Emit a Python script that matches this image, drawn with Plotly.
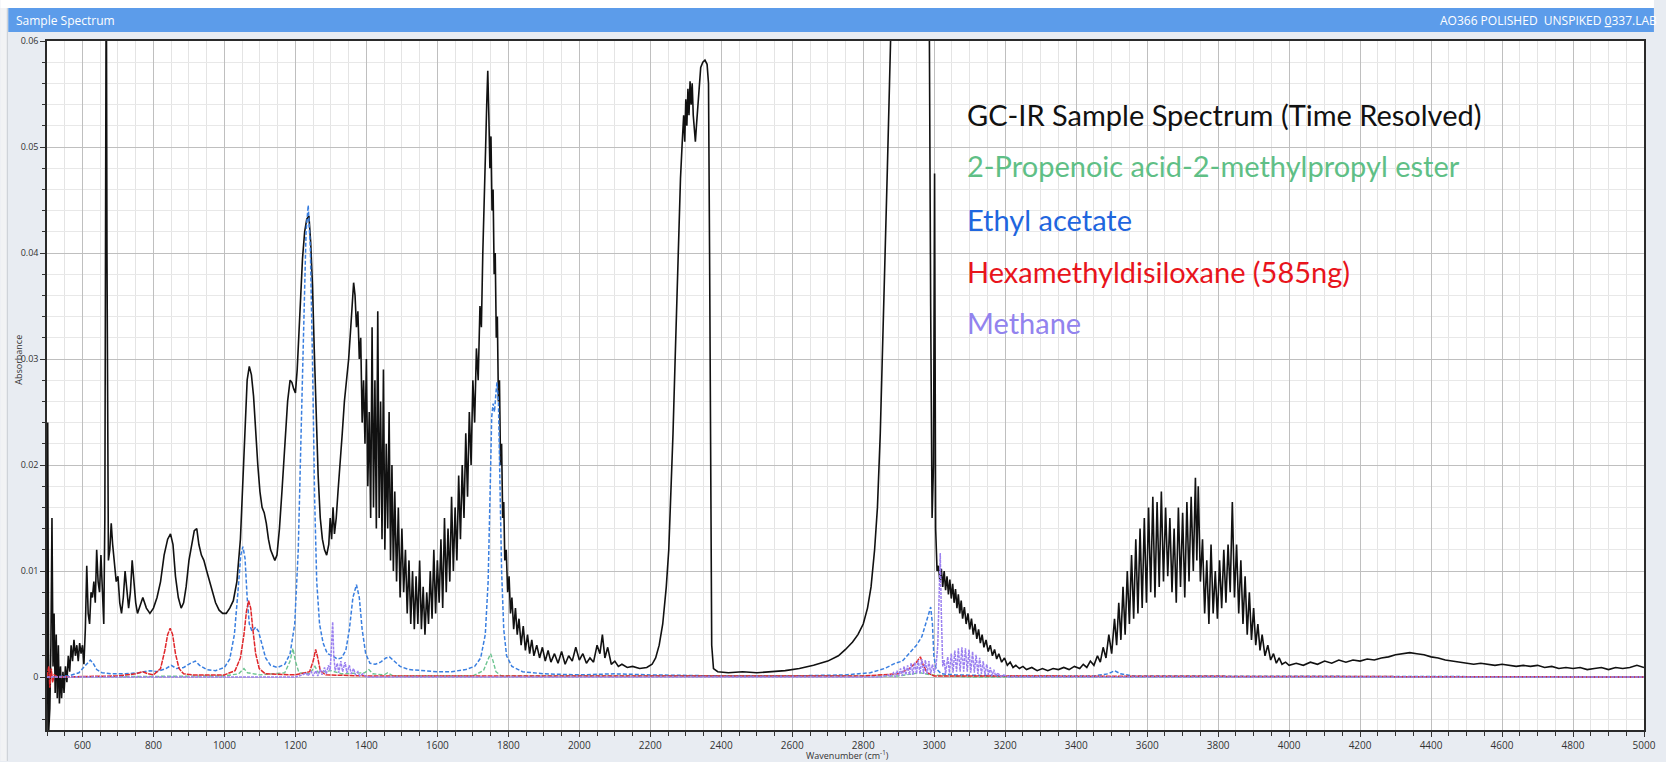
import plotly.graph_objects as go

# ---------------- data ----------------
sample_wn = [500, 502, 505, 508, 511, 514, 517, 520, 523, 526, 529, 532, 535, 538, 541, 545, 548, 552, 556, 560,
             564, 568, 572, 576, 580, 584, 588, 592, 596, 600, 604, 608, 612, 616, 620, 624, 628, 632, 636, 640,
             644, 648, 652, 656, 660, 663, 665, 667, 669, 671, 673, 677, 681, 685, 690, 695, 700, 705, 710, 715,
             720, 725, 730, 735, 740, 745, 750, 755, 760, 770, 780, 790, 800, 810, 820, 830, 840, 848, 855, 862,
             870, 878, 885, 892, 900, 908, 915, 922, 928, 935, 942, 950, 958, 965, 975, 985, 995, 1005, 1015, 1025,
             1035, 1045, 1052, 1058, 1064, 1070, 1076, 1082, 1088, 1094, 1100, 1106, 1112, 1118, 1124, 1130, 1136, 1142, 1148, 1155,
             1162, 1170, 1178, 1185, 1190, 1195, 1200, 1205, 1210, 1215, 1220, 1226, 1232, 1238, 1243, 1248, 1253, 1258, 1264, 1270,
             1276, 1282, 1288, 1294, 1298, 1302, 1306, 1310, 1315, 1320, 1326, 1332, 1338, 1344, 1350, 1356, 1360, 1364, 1368, 1372,
             1376, 1380, 1384, 1388, 1392, 1396, 1400, 1404, 1408, 1412, 1416, 1420, 1424, 1428, 1432, 1436, 1440, 1444, 1448, 1452,
             1456, 1460, 1464, 1468, 1472, 1476, 1480, 1485, 1490, 1495, 1500, 1505, 1510, 1515, 1520, 1525, 1530, 1535, 1540, 1545,
             1550, 1555, 1560, 1565, 1570, 1575, 1580, 1585, 1590, 1595, 1600, 1605, 1610, 1615, 1620, 1625, 1630, 1635, 1640, 1645,
             1650, 1655, 1660, 1665, 1670, 1675, 1680, 1685, 1690, 1695, 1700, 1705, 1710, 1715, 1720, 1724, 1728, 1732, 1736, 1739,
             1742, 1745, 1748, 1751, 1754, 1757, 1760, 1763, 1766, 1769, 1772, 1775, 1778, 1781, 1784, 1787, 1790, 1794, 1798, 1802,
             1806, 1810, 1815, 1820, 1825, 1830, 1836, 1842, 1848, 1854, 1860, 1866, 1872, 1880, 1888, 1896, 1904, 1912, 1920, 1930,
             1940, 1950, 1960, 1970, 1980, 1990, 2000, 2010, 2020, 2030, 2040, 2050, 2058, 2065, 2072, 2080, 2090, 2100, 2110, 2120,
             2135, 2150, 2170, 2190, 2205, 2215, 2225, 2235, 2245, 2252, 2258, 2264, 2270, 2275, 2280, 2285, 2290, 2294, 2297, 2300,
             2303, 2306, 2309, 2312, 2315, 2318, 2321, 2324, 2327, 2330, 2334, 2338, 2342, 2348, 2354, 2360, 2364, 2367, 2370, 2373,
             2378, 2390, 2420, 2460, 2500, 2540, 2580, 2620, 2660, 2700, 2730, 2750, 2770, 2785, 2800, 2812, 2822, 2832, 2840, 2848,
             2855, 2862, 2868, 2874, 2880, 2890, 2985, 2990, 2994, 2998, 3001, 3004, 3008, 3012, 3016, 3020, 3024, 3028, 3032, 3036,
             3040, 3044, 3048, 3052, 3056, 3060, 3064, 3068, 3072, 3076, 3080, 3085, 3090, 3095, 3100, 3105, 3110, 3115, 3120, 3125,
             3130, 3135, 3140, 3146, 3152, 3158, 3164, 3170, 3176, 3182, 3190, 3198, 3206, 3214, 3222, 3230, 3240, 3250, 3260, 3275,
             3290, 3305, 3320, 3335, 3350, 3365, 3380, 3395, 3410, 3420, 3430, 3440, 3450, 3460, 3468, 3476, 3484, 3492, 3500, 3508,
             3514, 3520, 3526, 3532, 3538, 3544, 3550, 3556, 3562, 3568, 3574, 3580, 3586, 3592, 3598, 3604, 3610, 3616, 3622, 3628,
             3634, 3640, 3646, 3652, 3658, 3664, 3670, 3676, 3682, 3688, 3694, 3700, 3706, 3712, 3718, 3724, 3730, 3736, 3740, 3744,
             3750, 3756, 3762, 3768, 3774, 3780, 3786, 3792, 3798, 3804, 3810, 3816, 3822, 3828, 3834, 3840, 3846, 3852, 3858, 3864,
             3870, 3876, 3882, 3888, 3894, 3900, 3906, 3912, 3918, 3924, 3932, 3940, 3948, 3956, 3964, 3972, 3980, 3990, 4000, 4020,
             4040, 4060, 4080, 4100, 4120, 4140, 4160, 4180, 4200, 4220, 4240, 4260, 4280, 4300, 4320, 4340, 4360, 4380, 4400, 4420,
             4440, 4460, 4480, 4500, 4520, 4540, 4560, 4580, 4600, 4620, 4640, 4660, 4680, 4700, 4720, 4740, 4760, 4780, 4800, 4820,
             4840, 4860, 4880, 4900, 4920, 4940, 4960, 4980, 5000]
sample_abs = [-0.0050, 0.0240, -0.0050, -0.0030, 0.0030, 0.0150, 0.0010, 0.0060, -0.0015, 0.0040, -0.0020, 0.0030, -0.0025, 0.0010, -0.0020, 0.0005, -0.0015, 0.0010, -0.0005, 0.0020,
              0.0005, 0.0030, 0.0015, 0.0035, 0.0020, 0.0030, 0.0015, 0.0032, 0.0022, 0.0030, 0.0012, 0.0045, 0.0105, 0.0060, 0.0050, 0.0080, 0.0075, 0.0090, 0.0070, 0.0120,
              0.0090, 0.0080, 0.0115, 0.0080, 0.0050, 0.0150, 0.0400, 0.0700, 0.0400, 0.0150, 0.0110, 0.0120, 0.0145, 0.0125, 0.0110, 0.0090, 0.0095, 0.0070, 0.0060, 0.0075,
              0.0100, 0.0085, 0.0065, 0.0080, 0.0110, 0.0090, 0.0070, 0.0060, 0.0065, 0.0075, 0.0065, 0.0060, 0.0065, 0.0075, 0.0090, 0.0115, 0.0130, 0.0135, 0.0125, 0.0095,
              0.0075, 0.0065, 0.0070, 0.0085, 0.0110, 0.0125, 0.0138, 0.0140, 0.0125, 0.0115, 0.0110, 0.0100, 0.0090, 0.0082, 0.0070, 0.0063, 0.0060, 0.0060, 0.0065, 0.0072,
              0.0090, 0.0130, 0.0190, 0.0245, 0.0280, 0.0293, 0.0285, 0.0265, 0.0230, 0.0200, 0.0175, 0.0160, 0.0155, 0.0145, 0.0130, 0.0120, 0.0115, 0.0110, 0.0115, 0.0140,
              0.0175, 0.0220, 0.0260, 0.0280, 0.0278, 0.0272, 0.0268, 0.0290, 0.0320, 0.0360, 0.0395, 0.0420, 0.0432, 0.0435, 0.0410, 0.0370, 0.0310, 0.0250, 0.0190, 0.0150,
              0.0130, 0.0120, 0.0115, 0.0125, 0.0150, 0.0130, 0.0160, 0.0135, 0.0150, 0.0175, 0.0200, 0.0230, 0.0260, 0.0280, 0.0300, 0.0330, 0.0355, 0.0372, 0.0360, 0.0330,
              0.0345, 0.0300, 0.0320, 0.0240, 0.0280, 0.0220, 0.0300, 0.0180, 0.0250, 0.0150, 0.0330, 0.0160, 0.0280, 0.0140, 0.0345, 0.0150, 0.0260, 0.0130, 0.0290, 0.0120,
              0.0220, 0.0140, 0.0250, 0.0110, 0.0200, 0.0100, 0.0175, 0.0090, 0.0160, 0.0075, 0.0140, 0.0080, 0.0120, 0.0060, 0.0110, 0.0050, 0.0100, 0.0045, 0.0095, 0.0050,
              0.0110, 0.0045, 0.0085, 0.0040, 0.0080, 0.0050, 0.0100, 0.0055, 0.0120, 0.0060, 0.0110, 0.0070, 0.0130, 0.0065, 0.0150, 0.0080, 0.0140, 0.0090, 0.0170, 0.0100,
              0.0160, 0.0110, 0.0190, 0.0130, 0.0200, 0.0150, 0.0230, 0.0170, 0.0250, 0.0200, 0.0280, 0.0240, 0.0310, 0.0280, 0.0350, 0.0330, 0.0400, 0.0440, 0.0500, 0.0540,
              0.0572, 0.0530, 0.0480, 0.0510, 0.0440, 0.0460, 0.0380, 0.0400, 0.0320, 0.0340, 0.0260, 0.0280, 0.0200, 0.0220, 0.0150, 0.0165, 0.0110, 0.0120, 0.0080, 0.0095,
              0.0060, 0.0075, 0.0045, 0.0065, 0.0040, 0.0055, 0.0030, 0.0048, 0.0025, 0.0040, 0.0022, 0.0035, 0.0020, 0.0030, 0.0018, 0.0028, 0.0015, 0.0025, 0.0014, 0.0022,
              0.0013, 0.0024, 0.0012, 0.0020, 0.0015, 0.0028, 0.0016, 0.0022, 0.0013, 0.0018, 0.0014, 0.0030, 0.0022, 0.0040, 0.0018, 0.0028, 0.0012, 0.0015, 0.0010, 0.0012,
              0.0009, 0.0010, 0.0008, 0.0009, 0.0012, 0.0018, 0.0030, 0.0050, 0.0085, 0.0120, 0.0170, 0.0230, 0.0300, 0.0360, 0.0420, 0.0470, 0.0505, 0.0530, 0.0505, 0.0545,
              0.0520, 0.0555, 0.0530, 0.0562, 0.0540, 0.0560, 0.0530, 0.0515, 0.0505, 0.0520, 0.0540, 0.0560, 0.0575, 0.0580, 0.0582, 0.0578, 0.0560, 0.0400, 0.0150, 0.0030,
              0.0008, 0.0005, 0.0004, 0.0005, 0.0004, 0.0005, 0.0006, 0.0008, 0.0011, 0.0015, 0.0020, 0.0026, 0.0033, 0.0040, 0.0050, 0.0065, 0.0085, 0.0120, 0.0160, 0.0230,
              0.0310, 0.0400, 0.0480, 0.0560, 0.0640, 0.0700, 0.0700, 0.0350, 0.0150, 0.0200, 0.0475, 0.0140, 0.0100, 0.0105, 0.0090, 0.0102, 0.0085, 0.0100, 0.0082, 0.0095,
              0.0078, 0.0092, 0.0074, 0.0088, 0.0070, 0.0083, 0.0065, 0.0078, 0.0060, 0.0072, 0.0055, 0.0066, 0.0050, 0.0060, 0.0045, 0.0055, 0.0040, 0.0050, 0.0036, 0.0045,
              0.0032, 0.0040, 0.0028, 0.0035, 0.0024, 0.0030, 0.0020, 0.0026, 0.0017, 0.0022, 0.0014, 0.0018, 0.0011, 0.0014, 0.0009, 0.0011, 0.0008, 0.0010, 0.0007, 0.0009,
              0.0006, 0.0008, 0.0006, 0.0008, 0.0007, 0.0009, 0.0007, 0.0010, 0.0008, 0.0012, 0.0009, 0.0015, 0.0011, 0.0020, 0.0014, 0.0028, 0.0018, 0.0040, 0.0022, 0.0055,
              0.0030, 0.0070, 0.0035, 0.0085, 0.0040, 0.0100, 0.0050, 0.0115, 0.0055, 0.0130, 0.0060, 0.0140, 0.0065, 0.0150, 0.0070, 0.0160, 0.0080, 0.0170, 0.0075, 0.0165,
              0.0085, 0.0175, 0.0090, 0.0160, 0.0095, 0.0150, 0.0080, 0.0140, 0.0070, 0.0160, 0.0085, 0.0155, 0.0075, 0.0165, 0.0090, 0.0170, 0.0100, 0.0188, 0.0110, 0.0180,
              0.0090, 0.0130, 0.0060, 0.0110, 0.0050, 0.0125, 0.0060, 0.0100, 0.0055, 0.0110, 0.0065, 0.0120, 0.0070, 0.0125, 0.0080, 0.0165, 0.0075, 0.0125, 0.0060, 0.0110,
              0.0050, 0.0095, 0.0040, 0.0080, 0.0035, 0.0065, 0.0030, 0.0050, 0.0025, 0.0040, 0.0020, 0.0030, 0.0016, 0.0022, 0.0013, 0.0018, 0.0012, 0.0014, 0.0011, 0.0013,
              0.0011, 0.0014, 0.0012, 0.0015, 0.0013, 0.0016, 0.0014, 0.0016, 0.0015, 0.0017, 0.0016, 0.0018, 0.0019, 0.0021, 0.0022, 0.0023, 0.0022, 0.0021, 0.0019, 0.0018,
              0.0016, 0.0015, 0.0014, 0.0013, 0.0012, 0.0013, 0.0012, 0.0011, 0.0012, 0.0011, 0.0010, 0.0011, 0.0010, 0.0011, 0.0009, 0.0010, 0.0008, 0.0009, 0.0008, 0.0009,
              0.0007, 0.0008, 0.0009, 0.0007, 0.0009, 0.0008, 0.0009, 0.0011, 0.0009]

ethyl_wn = [500, 560, 590, 605, 615, 622, 630, 640, 655, 680, 720, 760, 790, 810, 835, 850, 865, 885, 905, 918,
            930, 950, 975, 1000, 1015, 1028, 1038, 1046, 1052, 1058, 1064, 1070, 1078, 1088, 1096, 1106, 1116, 1130, 1150, 1170,
            1185, 1198, 1208, 1216, 1224, 1230, 1236, 1242, 1248, 1254, 1260, 1268, 1278, 1290, 1305, 1318, 1330, 1342, 1352, 1362,
            1372, 1380, 1388, 1398, 1410, 1425, 1440, 1455, 1465, 1478, 1495, 1520, 1560, 1600, 1640, 1680, 1705, 1722, 1735, 1743,
            1749, 1753, 1757, 1761, 1765, 1768, 1772, 1776, 1781, 1787, 1795, 1810, 1840, 1900, 2000, 2100, 2200, 2400, 2600, 2750,
            2820, 2860, 2890, 2910, 2930, 2950, 2965, 2975, 2983, 2990, 2995, 2999, 3005, 3020, 3060, 3200, 3450, 3490, 3508, 3525,
            3560, 5000]
ethyl_abs = [0.0000, 0.0001, 0.0004, 0.0010, 0.0014, 0.0016, 0.0013, 0.0007, 0.0004, 0.0003, 0.0003, 0.0004, 0.0006, 0.0005, 0.0008, 0.0011, 0.0008, 0.0009, 0.0013, 0.0015,
             0.0011, 0.0007, 0.0006, 0.0009, 0.0017, 0.0040, 0.0080, 0.0115, 0.0123, 0.0112, 0.0075, 0.0050, 0.0043, 0.0047, 0.0043, 0.0030, 0.0018, 0.0011, 0.0009, 0.0012,
             0.0022, 0.0050, 0.0120, 0.0230, 0.0350, 0.0420, 0.0445, 0.0405, 0.0300, 0.0170, 0.0090, 0.0050, 0.0032, 0.0022, 0.0020, 0.0017, 0.0018, 0.0025, 0.0045, 0.0075,
             0.0087, 0.0075, 0.0045, 0.0022, 0.0013, 0.0012, 0.0014, 0.0018, 0.0019, 0.0015, 0.0010, 0.0007, 0.0006, 0.0005, 0.0005, 0.0007, 0.0010, 0.0018, 0.0040, 0.0090,
             0.0180, 0.0245, 0.0258, 0.0250, 0.0268, 0.0278, 0.0260, 0.0190, 0.0100, 0.0045, 0.0020, 0.0010, 0.0005, 0.0003, 0.0002, 0.0003, 0.0002, 0.0001, 0.0001, 0.0002,
             0.0004, 0.0008, 0.0013, 0.0015, 0.0022, 0.0030, 0.0038, 0.0048, 0.0058, 0.0066, 0.0050, 0.0020, 0.0008, 0.0003, 0.0002, 0.0001, 0.0001, 0.0003, 0.0006, 0.0003,
             0.0001, 0.0000]

hmdso_wn = [500, 505, 508, 512, 516, 520, 530, 700, 750, 770, 785, 800, 820, 832, 840, 847, 854, 862, 872, 885,
            910, 1000, 1030, 1045, 1055, 1062, 1068, 1074, 1080, 1088, 1098, 1115, 1200, 1240, 1250, 1257, 1263, 1270, 1285, 1400,
            2800, 2900, 2930, 2950, 2961, 2968, 2980, 3000, 5000]
hmdso_abs = [0.0000, 0.0010, -0.0010, 0.0008, -0.0005, 0.0002, 0.0000, 0.0001, 0.0003, 0.0005, 0.0003, 0.0002, 0.0008, 0.0025, 0.0040, 0.0046, 0.0040, 0.0022, 0.0008, 0.0003,
             0.0002, 0.0002, 0.0006, 0.0018, 0.0040, 0.0062, 0.0072, 0.0065, 0.0045, 0.0022, 0.0008, 0.0003, 0.0002, 0.0005, 0.0015, 0.0026, 0.0018, 0.0006, 0.0002, 0.0001,
             0.0001, 0.0003, 0.0008, 0.0014, 0.0019, 0.0012, 0.0004, 0.0001, 0.0000]

ester_wn = [500, 1000, 1040, 1055, 1065, 1100, 1170, 1185, 1193, 1200, 1210, 1240, 1255, 1265, 1300, 1330, 1395, 1407, 1418, 1450,
            1460, 1475, 1700, 1730, 1742, 1750, 1757, 1765, 1780, 2900, 2960, 2990, 3100, 5000]
ester_abs = [0.0000, 0.0001, 0.0003, 0.0008, 0.0004, 0.0002, 0.0004, 0.0015, 0.0027, 0.0015, 0.0004, 0.0003, 0.0010, 0.0004, 0.0006, 0.0003, 0.0004, 0.0007, 0.0003, 0.0002,
             0.0004, 0.0001, 0.0001, 0.0006, 0.0016, 0.0022, 0.0015, 0.0005, 0.0001, 0.0001, 0.0004, 0.0002, 0.0000, 0.0000]

methane_wn = [500, 1200, 1220, 1230, 1235, 1245, 1250, 1258, 1263, 1270, 1275, 1282, 1287, 1293, 1298, 1302, 1305, 1308, 1312, 1318,
              1322, 1328, 1333, 1340, 1345, 1352, 1357, 1364, 1369, 1376, 1381, 1390, 1400, 2850, 2870, 2875, 2885, 2890, 2895, 2900,
              2905, 2910, 2915, 2920, 2925, 2930, 2935, 2940, 2945, 2950, 2955, 2960, 2965, 2970, 2975, 2980, 2985, 2990, 2995, 3000,
              3005, 3010, 3014, 3017, 3020, 3024, 3028, 3032, 3038, 3043, 3048, 3053, 3058, 3063, 3068, 3073, 3078, 3083, 3088, 3093,
              3098, 3103, 3108, 3113, 3118, 3123, 3128, 3133, 3138, 3143, 3148, 3153, 3158, 3163, 3168, 3173, 3180, 3186, 3195, 3210,
              5000]
methane_abs = [0.0000, 0.0000, 0.0002, 0.0004, 0.0001, 0.0005, 0.0001, 0.0006, 0.0001, 0.0007, 0.0002, 0.0009, 0.0003, 0.0011, 0.0006, 0.0030, 0.0052, 0.0020, 0.0006, 0.0013,
               0.0004, 0.0015, 0.0005, 0.0014, 0.0004, 0.0011, 0.0003, 0.0008, 0.0002, 0.0005, 0.0001, 0.0003, 0.0000, 0.0000, 0.0002, 0.0000, 0.0004, 0.0000, 0.0006, 0.0001,
               0.0008, 0.0001, 0.0010, 0.0002, 0.0011, 0.0002, 0.0013, 0.0002, 0.0014, 0.0003, 0.0016, 0.0003, 0.0017, 0.0003, 0.0016, 0.0003, 0.0015, 0.0003, 0.0012, 0.0004,
               0.0010, 0.0030, 0.0090, 0.0117, 0.0060, 0.0010, 0.0016, 0.0003, 0.0019, 0.0004, 0.0022, 0.0004, 0.0025, 0.0005, 0.0027, 0.0005, 0.0028, 0.0005, 0.0027, 0.0005,
               0.0026, 0.0004, 0.0024, 0.0004, 0.0021, 0.0003, 0.0018, 0.0003, 0.0015, 0.0002, 0.0012, 0.0002, 0.0009, 0.0001, 0.0007, 0.0001, 0.0004, 0.0000, 0.0002, 0.0000,
               0.0000]

legend_labels = ["GC-IR Sample Spectrum (Time Resolved)", "2-Propenoic acid-2-methylpropyl ester",
                 "Ethyl acetate", "Hexamethyldisiloxane (585ng)", "Methane"]
legend_colors = ["#111111", "#5fbf86", "#1f66de", "#e8141c", "#9283ee"]

# ---------------- figure ----------------
W, H = 1666, 762
L, R, T, B = 47, 1656, 41, 731


def px(x):
    return (x - L) / (R - L)


def py(y):
    return (B - y) / (B - T)


fig = go.Figure()
fig.add_trace(go.Scatter(x=sample_wn, y=sample_abs, mode="lines",
                         line=dict(color="#111111", width=1.6), hoverinfo="skip"))
fig.add_trace(go.Scatter(x=ester_wn, y=ester_abs, mode="lines",
                         line=dict(color="#6cc490", width=1.4, dash="4px,2px"), hoverinfo="skip"))
fig.add_trace(go.Scatter(x=ethyl_wn, y=ethyl_abs, mode="lines",
                         line=dict(color="#3a7fe0", width=1.5, dash="4px,2px"), hoverinfo="skip"))
fig.add_trace(go.Scatter(x=hmdso_wn, y=hmdso_abs, mode="lines",
                         line=dict(color="#e0262a", width=1.5, dash="5px,1px"), hoverinfo="skip"))
fig.add_trace(go.Scatter(x=methane_wn, y=methane_abs, mode="lines",
                         line=dict(color="#9b80f0", width=1.5, dash="3px,1px"), hoverinfo="skip"))

shapes = [
    dict(type="rect", xref="paper", yref="paper", x0=px(0), x1=px(W), y0=py(8), y1=py(0),
         fillcolor="#ffffff", line=dict(width=0), layer="below"),
    dict(type="rect", xref="paper", yref="paper", x0=px(8), x1=px(W), y0=py(32), y1=py(8),
         fillcolor="#5c9cea", line=dict(width=0), layer="below"),
    dict(type="rect", xref="paper", yref="paper", x0=px(0), x1=px(7), y0=py(H), y1=py(8),
         fillcolor="#f2f3f5", line=dict(width=0), layer="below"),
    dict(type="line", xref="paper", yref="paper", x0=px(7), x1=px(7), y0=py(H), y1=py(8),
         line=dict(color="#c9ccd2", width=1), layer="below"),
]

annotations = [
    dict(text="Sample Spectrum", x=px(14), y=py(20), xref="paper", yref="paper",
         xanchor="left", yanchor="middle", showarrow=False,
         font=dict(family="Open Sans, Noto Sans, sans-serif", size=12, color="#ffffff")),
    dict(text="AO366 POLISHED  UNSPIKED <u>0</u>337.LAB", x=px(1671), y=py(20), xref="paper", yref="paper",
         xanchor="right", yanchor="middle", showarrow=False,
         font=dict(family="Open Sans, Noto Sans, sans-serif", size=12, color="#ffffff")),
    dict(text="Absorbance", x=px(18), y=py(360), xref="paper", yref="paper",
         xanchor="center", yanchor="middle", showarrow=False, textangle=-90,
         font=dict(family="Open Sans, Noto Sans, sans-serif", size=9, color="#333333")),
    dict(text="Wavenumber (cm<sup>-1</sup>)", x=px(854), y=py(756), xref="paper", yref="paper",
         xanchor="center", yanchor="middle", showarrow=False,
         font=dict(family="Open Sans, Noto Sans, sans-serif", size=9, color="#333333")),
]
legend_y = [115, 166, 220, 272, 323]
for lab, col, yy in zip(legend_labels, legend_colors, legend_y):
    annotations.append(dict(text=lab, x=px(972), y=py(yy), xref="paper", yref="paper",
                            xanchor="left", yanchor="middle", showarrow=False,
                            font=dict(family="Lato, Carlito, Calibri, sans-serif", size=29, color=col)))

fig.update_layout(
    width=W, height=H,
    margin=dict(l=L, r=W - R, t=T, b=H - B, pad=0),
    paper_bgcolor="#e8ecf2",
    plot_bgcolor="#ffffff",
    showlegend=False,
    shapes=shapes,
    annotations=annotations,
    xaxis=dict(range=[500, 5000], tick0=0, dtick=200, ticks="outside", ticklen=5, tickcolor="#333333",
               showline=True, linecolor="#2a2a2a", linewidth=1.5, mirror=True,
               showgrid=True, gridcolor="#bfbfbf", gridwidth=1, zeroline=False,
               tickfont=dict(family="Open Sans, Noto Sans, sans-serif", size=10, color="#333333"),
               minor=dict(dtick=50, tick0=0, ticks="outside", ticklen=4, tickcolor="#333333",
                          showgrid=True, gridcolor="#e4e4e4", gridwidth=1)),
    yaxis=dict(range=[-0.005, 0.06], tick0=0, dtick=0.01, ticks="outside", ticklen=5, tickcolor="#333333",
               showline=True, linecolor="#2a2a2a", linewidth=1.5, mirror=True,
               showgrid=True, gridcolor="#bfbfbf", gridwidth=1, zeroline=False,
               tickfont=dict(family="Open Sans, Noto Sans, sans-serif", size=9, color="#333333"),
               minor=dict(dtick=0.002, tick0=0, ticks="outside", ticklen=3, tickcolor="#333333",
                          showgrid=True, gridcolor="#e8e8e8", gridwidth=1)),
)

fig.write_html("out.html")
